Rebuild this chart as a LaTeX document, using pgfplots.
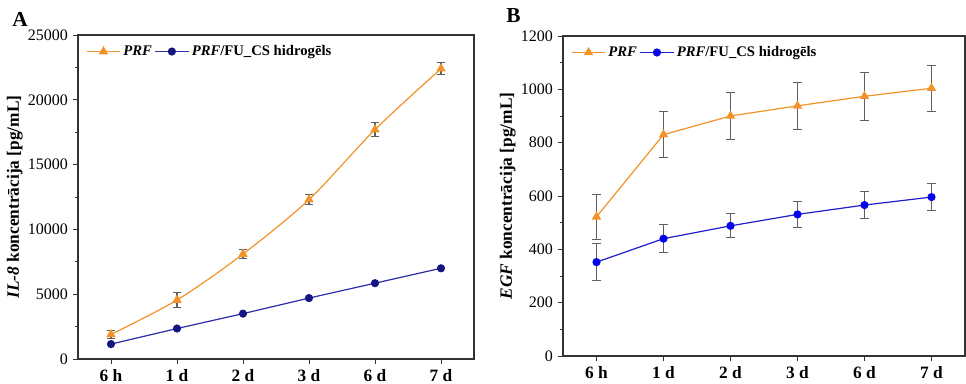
\documentclass[border=0pt]{standalone}
\usepackage{pgfplots}
\pgfplotsset{compat=1.18}
\usepackage{fontspec}
\setmainfont{Liberation Serif}
\definecolor{prfor}{RGB}{242,146,40}
\definecolor{blA}{RGB}{45,45,170}
\definecolor{blAm}{RGB}{20,20,130}
\definecolor{blB}{RGB}{30,30,205}
\definecolor{blBm}{RGB}{5,5,235}
\definecolor{errc}{RGB}{95,95,95}
\pgfplotsset{
  myaxis/.style={
    scale only axis,
    xmin=-0.5, xmax=5.5, ymin=0,
    xtick={0,1,2,3,4,5},
    xticklabels={6 h,1 d,2 d,3 d,6 d,7 d},
    scaled y ticks=false,
    tick align=outside, tick pos=left,
    minor y tick num=1,
    major tick length=4pt, minor tick length=2.5pt,
    axis line style={black!80, line width=0.9pt},
    every tick/.style={black!80, line width=0.7pt},
    /pgf/number format/assume math mode=true,
    /pgf/number format/1000 sep={},
    yticklabel style={font=\fontsize{12}{14}\selectfont},
    xticklabel style={font=\fontsize{13}{15}\selectfont\bfseries},
    ylabel style={font=\fontsize{13}{15}\selectfont\bfseries},
    ylabel shift=-3pt,
    legend style={at={(0.01,0.985)}, anchor=north west, draw=none, fill=none,
      font=\fontsize{11}{13}\selectfont\bfseries, legend columns=2,
      /tikz/every even column/.append style={column sep=0pt}},
    legend cell align=left,
    legend image code/.code={
      \draw[##1] (0pt,0pt) -- (25pt,0pt);
      \draw[##1,only marks] plot coordinates {(12.5pt,0pt)};
    },
  },
  ebs/.style={
    error bars/y dir=both, error bars/y explicit,
    error bars/error bar style={errc, line width=0.8pt},
    error bars/error mark options={errc, rotate=90, mark size=3.2pt, line width=0.8pt}},
}
\begin{document}
\begin{tikzpicture}
\useasboundingbox (0,0) rectangle (724.5pt,288pt);
\node[anchor=base west, inner sep=0, font=\fontsize{16}{18}\selectfont\bfseries] at (9pt,267.75pt) {A};
\node[anchor=base west, inner sep=0, font=\fontsize{16}{18}\selectfont\bfseries] at (379.5pt,270.75pt) {B};
\begin{axis}[myaxis,
  at={(58.5pt,18.75pt)}, anchor=south west,
  width=297pt, height=243pt,
  ymax=25000, ytick={0,5000,10000,15000,20000,25000},
  ylabel={\textit{IL-8} koncentrācija [pg/mL]},
]
\addplot[prfor, line width=0.9pt, smooth, mark=triangle*, mark size=3.2pt, ebs]
  coordinates {
  (0,1900) +- (0,300)
  (1,4550) +- (0,550)
  (2,8100) +- (0,350)
  (3,12300) +- (0,400)
  (4,17700) +- (0,520)
  (5,22400) +- (0,450)
  };
\addlegendentry{\textit{PRF}}
\addplot[blA, line width=0.9pt, mark=*, mark size=2.6pt, mark options={blAm, fill=blAm}]
  coordinates {
  (0,1150) (1,2350) (2,3500) (3,4700) (4,5850) (5,7000)
  };
\addlegendentry{\textit{PRF}/FU\_CS hidrogēls}
\end{axis}
\begin{axis}[myaxis,
  at={(422.25pt,21pt)}, anchor=south west,
  width=301.5pt, height=240pt,
  ymax=1200, ytick={0,200,400,600,800,1000,1200},
  ylabel={\textit{EGF} koncentrācija [pg/mL]},
]
\addplot[prfor, line width=0.9pt, mark=triangle*, mark size=3.2pt, ebs]
  coordinates {
  (0,522) +- (0,85)
  (1,830) +- (0,86)
  (2,900) +- (0,87)
  (3,938) +- (0,87)
  (4,974) +- (0,90)
  (5,1004) +- (0,87)
  };
\addlegendentry{\textit{PRF}}
\addplot[blB, line width=0.9pt, mark=*, mark size=2.6pt, mark options={blBm, fill=blBm}, ebs]
  coordinates {
  (0,352) +- (0,70)
  (1,440) +- (0,52)
  (2,488) +- (0,45)
  (3,531) +- (0,50)
  (4,566) +- (0,52)
  (5,596) +- (0,52)
  };
\addlegendentry{\textit{PRF}/FU\_CS hidrogēls}
\end{axis}
\end{tikzpicture}
\end{document}
